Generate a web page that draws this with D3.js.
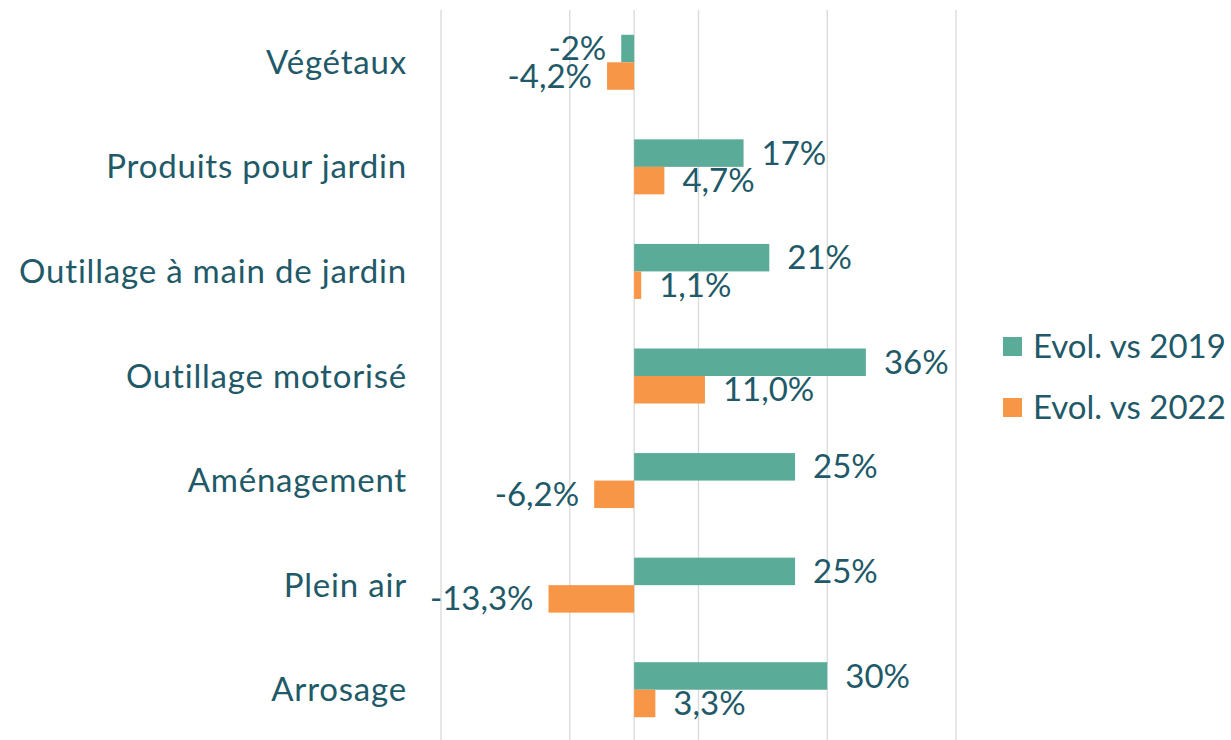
<!DOCTYPE html>
<html>
<head>
<meta charset="utf-8">
<script src="https://cdn.jsdelivr.net/npm/d3@7"></script>
<style>
  body { margin: 0; background: #fff; }
  text { font-family: Lato, "Open Sans", sans-serif; fill: #215968; }
</style>
</head>
<body>
<div id="chart"></div>
<script>
// Data
let categories = ["Végétaux", "Produits pour jardin", "Outillage à main de jardin",
  "Outillage motorisé", "Aménagement", "Plein air", "Arrosage"];
let vs2019 = [-2, 17, 21, 36, 25, 25, 30];
let vs2022 = [-4.2, 4.7, 1.1, 11.0, -6.2, -13.3, 3.3];
let labels2019 = ["-2%", "17%", "21%", "36%", "25%", "25%", "30%"];
let labels2022 = ["-4,2%", "4,7%", "1,1%", "11,0%", "-6,2%", "-13,3%", "3,3%"];
let seriesNames = ["Evol. vs 2019", "Evol. vs 2022"];
let gridTicks = [-30, -10, 10, 30, 50];

let svgWidth = 1231;
let svgHeight = 740;
let colors = ["#5aab98", "#f79646"];

let svg = d3.select("#chart")
  .append("svg")
  .attr("width", svgWidth)
  .attr("height", svgHeight);

// Scales
let x = d3.scaleLinear()
  .domain([-30, 50])
  .range([441, 956]);

let y = d3.scaleBand()
  .domain(categories)
  .range([10, 742]);

let barH = 27.5;

// Gridlines (plus the zero axis line)
svg.append("g")
  .selectAll("line")
  .data(gridTicks.concat([0]))
  .enter()
  .append("line")
  .attr("x1", d => x(d))
  .attr("x2", d => x(d))
  .attr("y1", 10)
  .attr("y2", 742)
  .attr("stroke", "#d9d9d9")
  .attr("stroke-width", 1.3);

// Category labels
svg.append("g")
  .selectAll("text")
  .data(categories)
  .enter()
  .append("text")
  .attr("x", 407)
  .attr("y", d => y(d) + y.bandwidth() / 2)
  .attr("dy", "0.35em")
  .attr("text-anchor", "end")
  .style("font-size", "33px")
  .style("letter-spacing", "0.8px")
  .text(d => d);

// Bars + value labels, one group per series
let series = [
  { values: vs2019, labels: labels2019, offset: -barH },
  { values: vs2022, labels: labels2022, offset: 0 }
];

series.forEach(function(s, i) {
  let g = svg.append("g");

  g.selectAll("rect")
    .data(categories)
    .enter()
    .append("rect")
    .attr("x", (d, j) => x(Math.min(0, s.values[j])))
    .attr("y", d => y(d) + y.bandwidth() / 2 + s.offset)
    .attr("width", (d, j) => Math.abs(x(s.values[j]) - x(0)))
    .attr("height", barH)
    .attr("fill", colors[i]);

  g.selectAll("text")
    .data(categories)
    .enter()
    .append("text")
    .attr("x", (d, j) => s.values[j] < 0 ? x(s.values[j]) - 15 : x(s.values[j]) + 18)
    .attr("y", d => y(d) + y.bandwidth() / 2 + s.offset + barH / 2)
    .attr("dy", "0.35em")
    .attr("text-anchor", (d, j) => s.values[j] < 0 ? "end" : "start")
    .style("font-size", "33px")
    .text((d, j) => s.labels[j]);
});

// Legend
let legend = svg.append("g")
  .attr("transform", "translate(1003, 346)");

seriesNames.forEach(function(name, i) {
  let row = legend.append("g")
    .attr("transform", `translate(0, ${i * 61})`);
  row.append("rect")
    .attr("x", 0)
    .attr("y", -9)
    .attr("width", 19)
    .attr("height", 19)
    .attr("fill", colors[i]);
  row.append("text")
    .attr("x", 30)
    .attr("y", 0)
    .attr("dy", "0.35em")
    .style("font-size", "33px")
    .text(name);
});
</script>
</body>
</html>
